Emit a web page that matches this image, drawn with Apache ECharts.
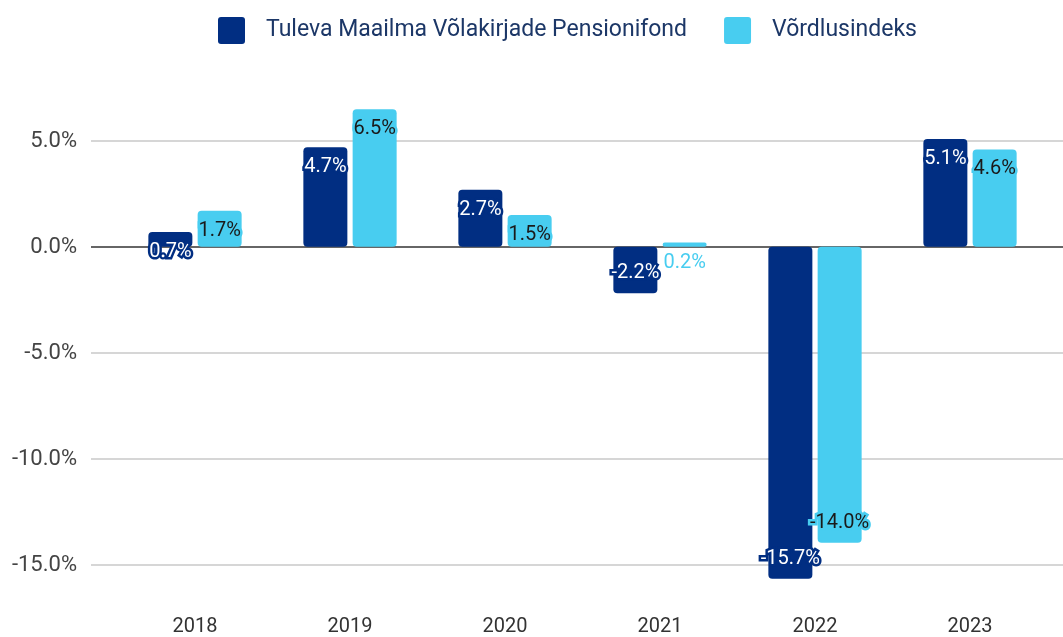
<!DOCTYPE html>
<html>
<head>
<meta charset="utf-8">
<script src="https://cdn.jsdelivr.net/npm/echarts@6/dist/echarts.min.js"></script>
<style>
    html, body { margin: 0; padding: 0; background: #fff; }
    #chart { width: 1063px; height: 637px; }
</style>
</head>
<body>
<div id="chart"></div>
<script>
var years = ['2018', '2019', '2020', '2021', '2022', '2023'];
var fundName = 'Tuleva Maailma Võlakirjade Pensionifond';
var indexName = 'Võrdlusindeks';
var fundValues = [0.7, 4.7, 2.7, -2.2, -15.7, 5.1];
var indexValues = [1.7, 6.5, 1.5, 0.2, -14.0, 4.6];
var yTicks = [-15, -10, -5, 0, 5];

var darkBlue = '#012e82';
var lightBlue = '#48cdf0';

// label inside bar end, halo in bar colour
function buildData(values, color, textColor) {
    return values.map(function (v) {
        var small = Math.abs(v) < 0.5;
        return {
            value: v,
            label: {
                position: v >= 0 ? 'insideTop' : 'insideBottom',
                color: small ? color : textColor,
                textBorderColor: color,
                textBorderWidth: small ? 0 : 5
            }
        };
    });
}

var chart = echarts.init(document.getElementById('chart'));

var labelBase = {
    show: true,
    distance: 10,
    fontFamily: 'Roboto',
    fontSize: 20,
    formatter: function (p) { return p.value.toFixed(1) + '%'; }
};

var option = {
    animation: false,
    textStyle: { fontFamily: 'Roboto' },
    legend: {
        left: 213,
        top: 12,
        itemWidth: 27,
        itemHeight: 27,
        itemGap: 37,
        icon: 'path://M3,0 L24,0 Q27,0 27,3 L27,24 Q27,27 24,27 L3,27 Q0,27 0,24 L0,3 Q0,0 3,0 Z',
        textStyle: { fontSize: 23, color: '#1c3767', padding: [0, 0, 0, 16] },
        data: [fundName, indexName]
    },
    grid: [
        // grid for the gridlines, wider than bars
        { left: 91, right: 0, top: 141, bottom: 72 },
        { left: 117.5, right: 15.5, top: 141, bottom: 72 }
    ],
    xAxis: [
        { type: 'category', gridIndex: 0, data: years, show: false },
        {
            type: 'category',
            gridIndex: 1,
            data: years,
            position: 'bottom',
            axisLine: { show: false, onZero: false },
            axisTick: { show: false },
            axisLabel: { margin: 53, fontSize: 20, color: '#333' }
        }
    ],
    yAxis: [
        {
            type: 'value',
            gridIndex: 0,
            min: yTicks[0],
            max: yTicks[yTicks.length - 1],
            interval: 5,
            axisLine: { show: false },
            axisTick: { show: false },
            axisLabel: {
                margin: 14,
                fontSize: 22,
                color: '#444',
                formatter: function (v) { return v.toFixed(1) + '%'; }
            },
            splitLine: {
                lineStyle: {
                    color: yTicks.map(function (t) { return t === 0 ? '#333' : '#c8c8c8'; }),
                    width: 1.5
                }
            }
        },
        {
            type: 'value',
            gridIndex: 1,
            min: yTicks[0],
            max: yTicks[yTicks.length - 1],
            interval: 5,
            show: false,
            splitLine: { show: false }
        }
    ],
    series: [
        {
            name: fundName,
            type: 'bar',
            xAxisIndex: 1,
            yAxisIndex: 1,
            clip: false,
            barWidth: 44,
            barGap: '12%',
            itemStyle: { color: darkBlue, borderRadius: 4 },
            label: labelBase,
            data: buildData(fundValues, darkBlue, '#fff')
        },
        {
            name: indexName,
            type: 'bar',
            xAxisIndex: 1,
            yAxisIndex: 1,
            clip: false,
            barWidth: 44,
            itemStyle: { color: lightBlue, borderRadius: 4 },
            label: labelBase,
            data: buildData(indexValues, lightBlue, '#1a1a1a')
        }
    ]
};
chart.setOption(option);
</script>
</body>
</html>
